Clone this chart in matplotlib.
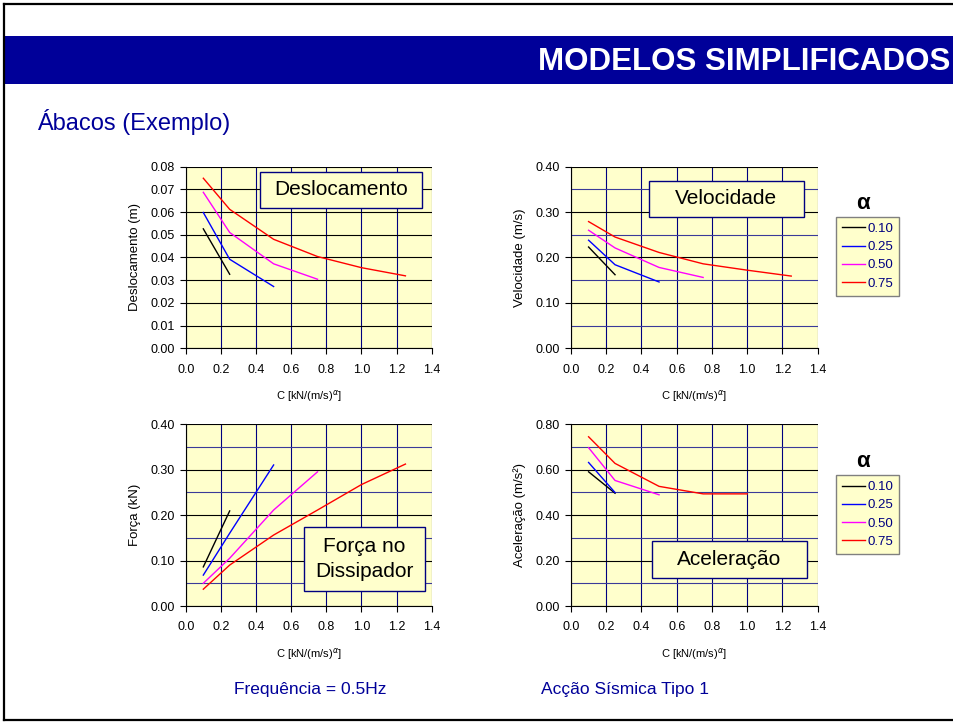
import matplotlib.pyplot as plt
from matplotlib.patches import Rectangle
from matplotlib.lines import Line2D
from matplotlib.ticker import MultipleLocator
import numpy as np

plt.rcParams['font.family'] = ['Liberation Sans', 'DejaVu Sans']

alphas = ["0.10", "0.25", "0.50", "0.75"]
colors = ["black", "#0000FF", "#FF00FF", "#FF0000"]

# C values for each alpha curve
c_desl = [[0.10, 0.25], [0.10, 0.25, 0.50], [0.10, 0.25, 0.50, 0.75],
          [0.10, 0.25, 0.50, 0.75, 1.00, 1.25]]
c_vel = c_desl
c_forca = c_desl
c_acel = [[0.10, 0.25], [0.10, 0.25], [0.10, 0.25, 0.50],
          [0.10, 0.25, 0.50, 0.75, 1.00]]

desl = [[0.0526, 0.0326],
        [0.0598, 0.0392, 0.0272],
        [0.0687, 0.0510, 0.0372, 0.0304],
        [0.0749, 0.0612, 0.0480, 0.0404, 0.0355, 0.0319]]
vel = [[0.223, 0.162],
       [0.238, 0.184, 0.146],
       [0.260, 0.221, 0.178, 0.156],
       [0.279, 0.245, 0.211, 0.186, 0.172, 0.159]]
forca = [[0.086, 0.209],
         [0.068, 0.160, 0.310],
         [0.050, 0.105, 0.211, 0.295],
         [0.037, 0.090, 0.156, 0.211, 0.267, 0.312]]
acel = [[0.590, 0.496],
        [0.631, 0.499],
        [0.696, 0.552, 0.489],
        [0.744, 0.627, 0.526, 0.493, 0.493]]

panels = [
    dict(c=c_desl, y=desl, ylabel="Deslocamento (m)", ymax=0.08, major=0.01, minor=None,
         box="Deslocamento", rect=[0.1947, 0.5183, 0.2579, 0.2512],
         bx=(0.302, 0.959, 0.773, 0.972)),
    dict(c=c_vel, y=vel, ylabel="Velocidade (m/s)", ymax=0.40, major=0.10, minor=0.05,
         box="Velocidade", rect=[0.5985, 0.5183, 0.2586, 0.2512],
         bx=(0.316, 0.944, 0.725, 0.923)),
    dict(c=c_forca, y=forca, ylabel="Força (kN)", ymax=0.40, major=0.10, minor=0.05,
         box="Força no\nDissipador", rect=[0.1947, 0.1618, 0.2579, 0.2517],
         bx=(0.481, 0.973, 0.082, 0.434)),
    dict(c=c_acel, y=acel, ylabel="Aceleração (m/s²)", ymax=0.80, major=0.20, minor=0.10,
         box="Aceleração", rect=[0.5985, 0.1618, 0.2586, 0.2517],
         bx=(0.328, 0.957, 0.155, 0.357)),
]

fig = plt.figure(figsize=(9.54, 7.23), dpi=100)

# slide frame and header band
fig.add_artist(Line2D([0.0042, 0.0042], [0.004, 0.994], color="black", lw=1.6))
fig.add_artist(Line2D([0.0042, 1.0], [0.994, 0.994], color="black", lw=1.6))
fig.add_artist(Line2D([0.0042, 1.0], [0.004, 0.004], color="black", lw=1.6))
fig.add_artist(Rectangle((0.0052, 0.8838), 0.995, 0.0664, color="#000099", lw=0))
fig.text(0.996, 0.914, "MODELOS SIMPLIFICADOS", color="white", fontsize=22.5,
         fontweight="bold", ha="right", va="center")
fig.text(0.039, 0.831, "Ábacos (Exemplo)", color="#000099", fontsize=17, va="center")
fig.text(0.245, 0.046, "Frequência = 0.5Hz", color="#000099", fontsize=12.5, va="center")
fig.text(0.567, 0.046, "Acção Sísmica Tipo 1", color="#000099", fontsize=12.5, va="center")

for i, p in enumerate(panels):
    ax = fig.add_axes(p["rect"])
    ax.set_facecolor("#FFFFCC")
    for k in range(len(alphas)):
        ax.plot(p["c"][k], p["y"][k], color=colors[k], lw=1.0, label=alphas[k])
    ax.set_xlim(0, 1.4)
    ax.set_ylim(0, p["ymax"])
    ax.xaxis.set_major_locator(MultipleLocator(0.2))
    ax.yaxis.set_major_locator(MultipleLocator(p["major"]))
    ax.xaxis.set_major_formatter("{x:.1f}")
    ax.yaxis.set_major_formatter("{x:.2f}")
    ax.grid(True, axis="x", color="#000080", lw=0.8)
    ax.grid(True, axis="y", which="major", color="black", lw=0.8)
    if p["minor"]:
        ax.yaxis.set_minor_locator(MultipleLocator(p["minor"]))
        ax.grid(True, axis="y", which="minor", color="#3a3a99", lw=0.8)
        ax.tick_params(which="minor", length=0)
    ax.set_axisbelow(True)
    for s in ["top", "right"]:
        ax.spines[s].set_visible(False)
    ax.tick_params(labelsize=9, length=4, width=0.8)
    ax.tick_params(axis="x", pad=7)
    ax.tick_params(axis="y", pad=4)
    ax.set_ylabel(p["ylabel"], fontsize=9.5, labelpad=7)
    ax.set_xlabel(r"C [kN/(m/s)$^{\alpha}$]", fontsize=8, labelpad=9)

    x0, x1, y0, y1 = p["bx"]
    ax.add_patch(Rectangle((x0, y0), x1 - x0, y1 - y0, transform=ax.transAxes,
                           facecolor="#FFFFCC", edgecolor="#000080", lw=1.0, zorder=5))
    ax.text((x0 + x1) / 2, (y0 + y1) / 2, p["box"], transform=ax.transAxes,
            ha="center", va="center", fontsize=15, zorder=6, linespacing=1.35)

    if i % 2 == 1:
        top = 0.700 if i == 1 else 0.343
        fig.text(0.905, top + 0.018, "α", fontsize=16, fontweight="bold",
                 ha="center", va="center")
        leg = ax.legend(loc="upper left", bbox_to_anchor=(0.876, top),
                        bbox_transform=fig.transFigure, fontsize=9.5,
                        handlelength=1.8, handletextpad=0.15, labelspacing=0.45,
                        borderpad=0.45, borderaxespad=0, fancybox=False,
                        facecolor="#FFFFCC", edgecolor="#808080", framealpha=1)
        for t in leg.get_texts():
            t.set_color("#000080")

fig.savefig("out.png", dpi=100)
